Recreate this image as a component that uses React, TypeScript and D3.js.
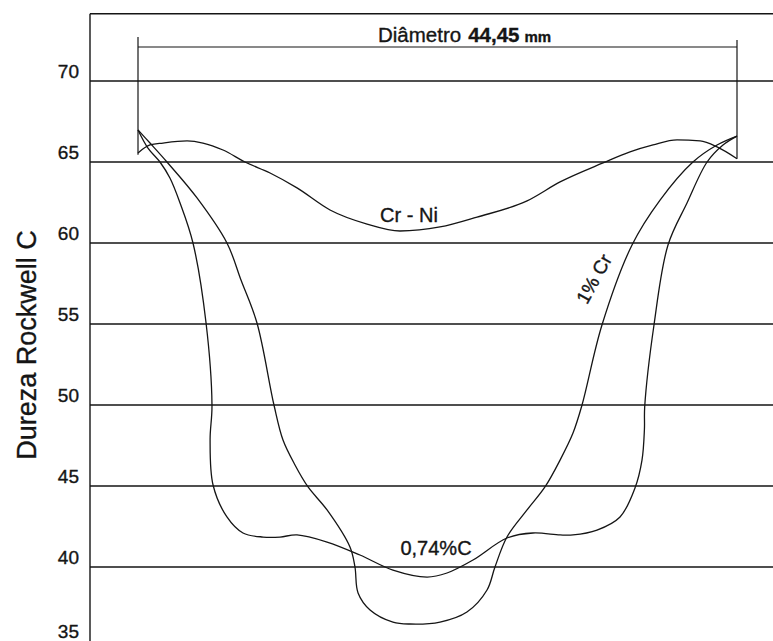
import React from "react";
import * as d3 from "d3";

// ---- data ----
const yTicks = [35, 40, 45, 50, 55, 60, 65, 70];
const gridValues = [40, 45, 50, 55, 60, 65, 70];
const frameTopValue = 74.15;
const diameterMm = 44.45;

// Cr - Ni
const crNiPos = [0, 0.89, 1.86, 3.64, 4.82, 6.31, 7.94, 9.8, 11.8, 14.25, 17.0, 19.44, 22.41, 25.16, 28.87, 31.32, 34.51, 36.51, 38.22, 40.0, 41.71, 42.97, 44.45];
const crNiHrc = [65.56, 66.05, 66.17, 66.3, 66.17, 65.74, 65.0, 64.32, 63.4, 62.04, 61.17, 60.74, 60.99, 61.6, 62.6, 63.77, 64.94, 65.62, 66.05, 66.36, 66.3, 65.93, 65.2];

// 1% Cr (deep U)
const crPos = [0, 0.89, 2.15, 4.38, 6.6, 7.65, 8.83, 10.09, 10.76, 11.65, 12.62, 14.03, 15.73, 16.1, 16.33, 17.22, 18.92, 20.18, 22.41, 24.41, 25.9, 26.49, 27.38, 28.87, 30.2, 31.32, 32.28, 32.95, 34.43, 36.66, 38.74, 41.18, 42.97, 44.45];
const crHrc = [66.98, 66.17, 65.0, 62.78, 60.0, 57.7, 55.06, 50.0, 47.84, 46.3, 44.94, 43.52, 41.23, 40.0, 38.4, 37.35, 36.6, 36.48, 36.6, 37.22, 38.58, 40.0, 41.85, 43.52, 44.94, 46.6, 48.27, 50.0, 54.94, 59.88, 62.65, 65.0, 66.05, 66.6];

// 0,74%C (plateau)
const cPos = [0, 0.74, 1.63, 2.37, 3.12, 4.08, 5.05, 5.49, 5.35, 5.57, 6.6, 7.79, 9.28, 10.54, 11.8, 14.03, 16.47, 18.92, 21.45, 22.93, 24.86, 27.38, 29.31, 31.32, 32.28, 34.06, 35.77, 36.88, 37.4, 37.58, 37.6, 38.29, 39.33, 40.74, 42.23, 43.41, 44.45];
const cHrc = [66.98, 65.86, 65.0, 64.01, 62.47, 60.0, 55.06, 50.0, 47.84, 45.06, 43.09, 42.1, 41.85, 41.85, 41.98, 41.54, 40.74, 39.81, 39.38, 39.63, 40.43, 41.79, 42.1, 41.98, 41.98, 42.28, 43.09, 44.88, 46.6, 48.5, 49.88, 54.94, 59.88, 62.47, 65.0, 66.05, 66.6];

const W = 773;
const H = 641;
const INK = "#151515";
const FONT = "'Liberation Sans', Arial, Helvetica, sans-serif";

export default function App() {
  const x = d3.scaleLinear().domain([0, diameterMm]).range([138, 737]);
  const y = d3.scaleLinear().domain([35, 75]).range([648, 0]);
  const axisX = 90;

  const toPts = (p: number[], v: number[]) => p.map((d, i) => [d, v[i]] as [number, number]);

  const smoothLine = d3
    .line<[number, number]>()
    .x((d) => x(d[0]))
    .y((d) => y(d[1]))
    .curve(d3.curveCatmullRom.alpha(0.5));
  const monoLine = d3
    .line<[number, number]>()
    .x((d) => x(d[0]))
    .y((d) => y(d[1]))
    .curve(d3.curveMonotoneX);

  const paths = [
    monoLine(toPts(crNiPos, crNiHrc)) || "",
    smoothLine(toPts(crPos, crHrc)) || "",
    smoothLine(toPts(cPos, cHrc)) || "",
  ];

  const bracketY = 47;
  const textStroke = { stroke: INK, strokeWidth: 0.35 };

  return (
    <svg
      width={W}
      height={H}
      style={{ position: "absolute", left: 0, top: 0, background: "#fff" }}
      fontFamily={FONT}
    >
      <rect x={0} y={0} width={W} height={H} fill="#fff" />
      {/* frame top */}
      <line x1={axisX} x2={W} y1={y(frameTopValue)} y2={y(frameTopValue)} stroke={INK} strokeWidth={1.3} />
      {/* left axis */}
      <line x1={axisX} x2={axisX} y1={y(frameTopValue)} y2={H} stroke={INK} strokeWidth={1.4} />
      {/* gridlines */}
      {gridValues.map((v) => (
        <line key={v} x1={axisX} x2={W} y1={y(v)} y2={y(v)} stroke={INK} strokeWidth={1.3} />
      ))}
      {/* tick labels */}
      {yTicks.map((v) => (
        <text
          key={v}
          x={79}
          y={v === 35 ? y(v) - 17 : y(v) - 10}
          textAnchor="end"
          dominantBaseline="central"
          fontSize={19}
          fill={INK}
          {...textStroke}
        >
          {v}
        </text>
      ))}
      {/* axis title */}
      <text
        transform={`translate(36, 345) rotate(-90)`}
        textAnchor="middle"
        fontSize={27}
        fill={INK}
        {...textStroke}
      >
        Dureza Rockwell C
      </text>

      {/* diameter bracket */}
      <line x1={x(0)} x2={x(diameterMm)} y1={bracketY} y2={bracketY} stroke={INK} strokeWidth={1.2} />
      <line x1={x(0)} x2={x(0)} y1={37} y2={y(65.45)} stroke={INK} strokeWidth={1.2} />
      <line x1={x(diameterMm)} x2={x(diameterMm)} y1={40} y2={y(65.2)} stroke={INK} strokeWidth={1.2} />
      <text x={378} y={42} fontSize={20.5} fill={INK} {...textStroke}>
        Diâmetro
        <tspan dx={7} fontWeight="bold">44,45</tspan>
        <tspan dx={5} fontWeight="bold" fontSize={15}>mm</tspan>
      </text>

      {/* curves */}
      {paths.map((d, i) => (
        <path key={i} d={d} fill="none" stroke={INK} strokeWidth={1.3} />
      ))}

      {/* curve labels */}
      <text x={409} y={222} textAnchor="middle" fontSize={20} fill={INK} {...textStroke}>
        Cr - Ni
      </text>
      <text x={436} y={555} textAnchor="middle" fontSize={20} fill={INK} {...textStroke}>
        0,74%C
      </text>
      <text
        transform="translate(594, 279) rotate(-61)"
        textAnchor="middle"
        dominantBaseline="central"
        fontSize={19}
        fill={INK}
        {...textStroke}
      >
        1% Cr
      </text>
    </svg>
  );
}
